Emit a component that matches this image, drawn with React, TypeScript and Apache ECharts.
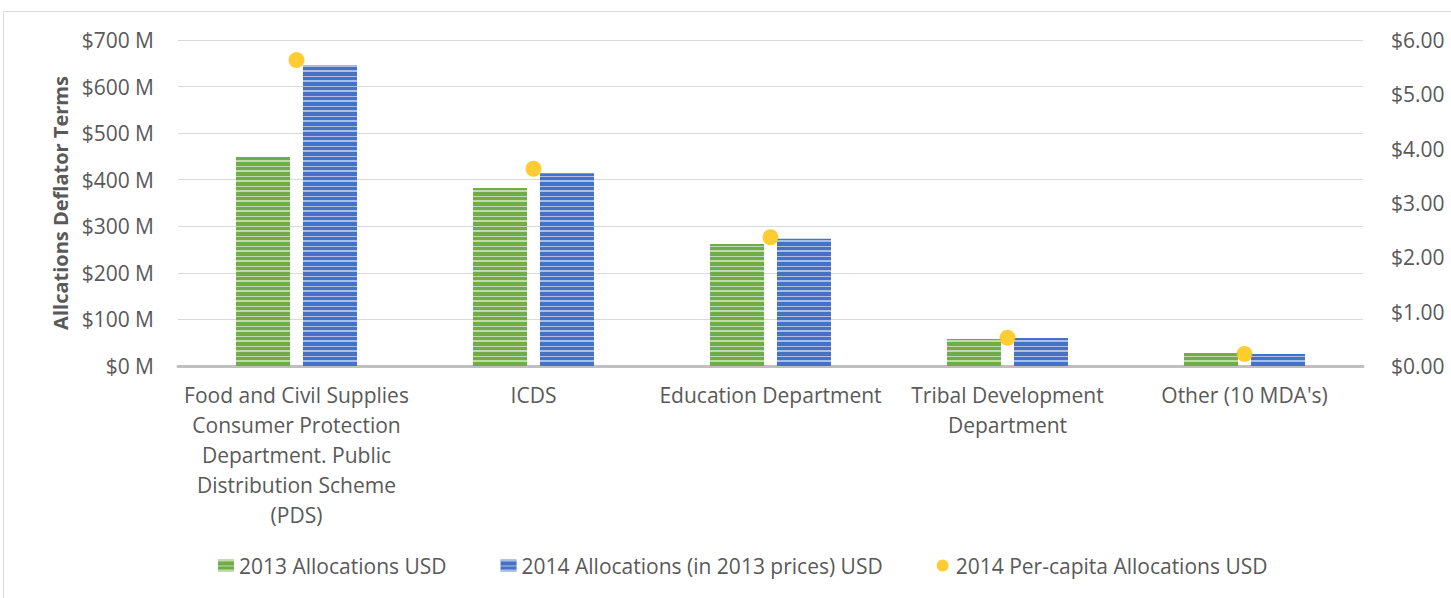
import React, { useEffect, useRef } from "react";
import * as echarts from "echarts";

const categories = [
  "Food and Civil Supplies\nConsumer Protection\nDepartment. Public\nDistribution Scheme\n(PDS)",
  "ICDS",
  "Education Department",
  "Tribal Development\nDepartment",
  "Other (10 MDA's)",
];
const alloc2013 = [449, 382, 262, 58, 28];
const alloc2014 = [645, 414, 273, 60, 26];
const perCapita2014 = [5.63, 3.63, 2.37, 0.52, 0.22];

const seriesNames = [
  "2013 Allocations USD",
  "2014 Allocations (in 2013 prices) USD",
  "2014 Per-capita Allocations USD",
];

const FONT = "'Open Sans', 'Noto Sans', sans-serif";
const TXT = "#595959";

export default function App() {
  const ref = useRef<HTMLDivElement>(null);
  useEffect(() => {
    if (!ref.current) return;
    const chart = echarts.init(ref.current, null, { renderer: "svg" });
    const decal = {
      symbol: "rect",
      symbolSize: 1,
      symbolKeepAspect: false,
      color: "rgba(255,255,255,0.55)",
      dashArrayX: [1, 0],
      dashArrayY: [2, 4, 1, 3],
      rotation: 0,
    };
    chart.setOption({
      animation: false,
      textStyle: { fontFamily: FONT },
      graphic: [
        {
          type: "rect",
          shape: { x: 3.5, y: 11.5, width: 1470, height: 620 },
          style: { fill: "none", stroke: "#d9d9d9", lineWidth: 1 },
          silent: true,
        },
      ],
      grid: { left: 178, right: 88, top: 40, bottom: 232, containLabel: false },
      legend: {
        bottom: 17,
        left: 213,
        itemWidth: 16,
        itemHeight: 12,
        itemGap: 54,
        textStyle: { fontFamily: FONT, fontSize: 21, color: TXT },
        data: [
          { name: seriesNames[0], icon: "rect" },
          { name: seriesNames[1], icon: "rect" },
          { name: seriesNames[2], icon: "circle" },
        ],
      },
      xAxis: {
        type: "category",
        data: categories,
        axisLine: { lineStyle: { color: "#bfbfbf", width: 3 } },
        axisTick: { show: false },
        axisLabel: {
          interval: 0,
          color: TXT,
          fontFamily: FONT,
          fontSize: 21,
          lineHeight: 30,
          margin: 14,
          align: "center",
        },
      },
      yAxis: [
        {
          type: "value",
          min: 0,
          max: 700,
          interval: 100,
          name: "Allcations Deflator Terms",
          nameLocation: "middle",
          nameGap: 108,
          nameRotate: 90,
          nameTextStyle: { fontFamily: FONT, fontSize: 20, fontWeight: "bold", color: TXT },
          axisLine: { show: false },
          axisTick: { show: false },
          axisLabel: {
            color: TXT,
            fontFamily: FONT,
            fontSize: 21,
            margin: 24,
            formatter: (v: number) => `$${v} M`,
          },
          splitLine: { lineStyle: { color: "#d9d9d9", width: 1 } },
        },
        {
          type: "value",
          min: 0,
          max: 6,
          interval: 1,
          position: "right",
          axisLine: { show: false },
          axisTick: { show: false },
          axisLabel: {
            color: TXT,
            fontFamily: FONT,
            fontSize: 21,
            margin: 28,
            formatter: (v: number) => `$${v.toFixed(2)}`,
          },
          splitLine: { show: false },
        },
      ],
      series: [
        {
          name: seriesNames[0],
          type: "bar",
          data: alloc2013,
          barWidth: 54,
          barGap: "24%",
          itemStyle: { color: "#70AD47", decal },
        },
        {
          name: seriesNames[1],
          type: "bar",
          data: alloc2014,
          barWidth: 54,
          barGap: "24%",
          itemStyle: { color: "#4472C4", decal },
        },
        {
          name: seriesNames[2],
          type: "scatter",
          yAxisIndex: 1,
          data: perCapita2014,
          symbol: "circle",
          symbolSize: 16,
          itemStyle: { color: "#FFC000" },
          z: 5,
        },
      ],
    });
    return () => chart.dispose();
  }, []);
  return (
    <div
      ref={ref}
      style={{ position: "absolute", left: 0, top: 0, width: 1451, height: 598 }}
    />
  );
}
